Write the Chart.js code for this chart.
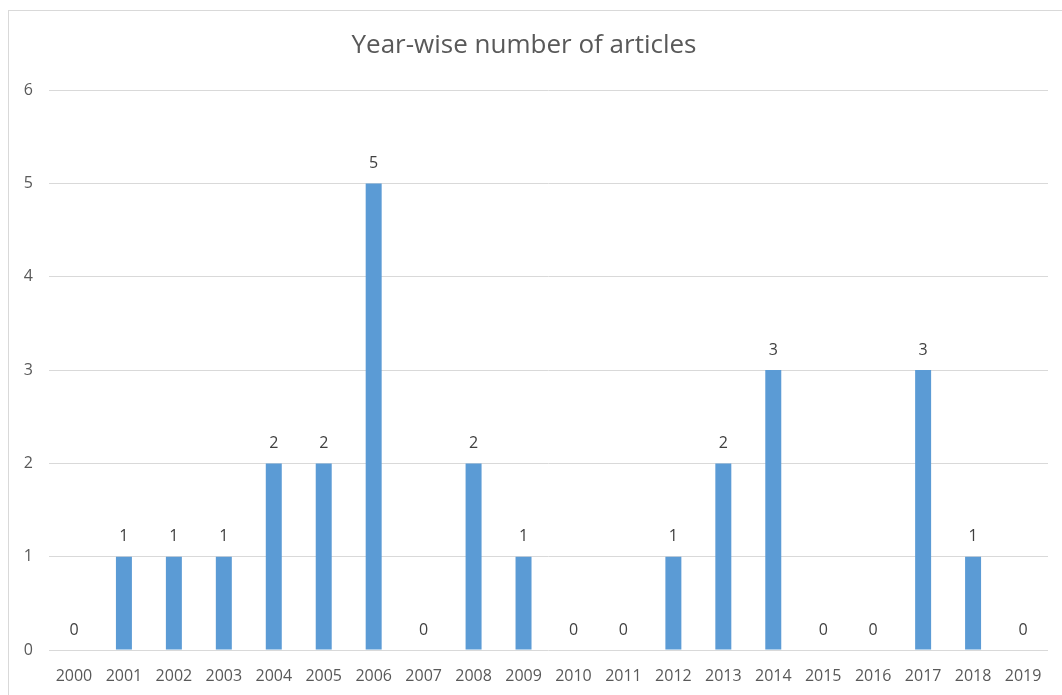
<!DOCTYPE html>
<html>
<head>
  <meta charset="utf-8" />
  <title>Year-wise number of articles</title>
  <script src="https://cdn.jsdelivr.net/npm/chart.js"></script>
  <style>
    html, body {
      margin: 0;
      padding: 0;
      background: #fff;
      overflow: hidden;
    }
    /* thin frame around the chart area, runs off the right and bottom */
    .frame {
      position: absolute;
      left: 8px;
      top: 10px;
      width: 1100px;
      height: 720px;
      border: 1px solid #d9d9d9;
      box-sizing: border-box;
    }
    .wrap {
      position: absolute;
      left: 0;
      top: 0;
      width: 1062px;
      height: 695px;
    }
  </style>
</head>
<body>
  <div class="frame"></div>
  <div class="wrap"><canvas id="chart"></canvas></div>

  <script>
    const years = ['2000', '2001', '2002', '2003', '2004', '2005', '2006', '2007', '2008', '2009',
                   '2010', '2011', '2012', '2013', '2014', '2015', '2016', '2017', '2018', '2019'];
    const articles = [0, 1, 1, 1, 2, 2, 5, 0, 2, 1, 0, 0, 1, 2, 3, 0, 0, 3, 1, 0];
    const yTicks = [0, 1, 2, 3, 4, 5, 6];

    const fontFamily = '"Open Sans", sans-serif';
    const axisColor = '#595959';
    const gridColor = '#d9d9d9';
    const barColor = '#5b9bd5';

    // value labels above each bar (zeros too)
    const valueLabels = {
      id: 'valueLabels',
      afterDatasetsDraw(chart) {
        const ctx = chart.ctx;
        const meta = chart.getDatasetMeta(0);
        ctx.save();
        ctx.font = '16px ' + fontFamily;
        ctx.fillStyle = '#404040';
        ctx.textAlign = 'center';
        ctx.textBaseline = 'middle';
        meta.data.forEach((bar, i) => {
          ctx.fillText(String(articles[i]), bar.x, bar.y - 20);
        });
        ctx.restore();
      }
    };

    const ctx = document.getElementById('chart').getContext('2d');
    new Chart(ctx, {
      type: 'bar',
      data: {
        labels: years,
        datasets: [{
          label: 'Articles',
          data: articles,
          backgroundColor: barColor,
          borderWidth: 0,
          categoryPercentage: 0.8,
          barPercentage: 0.4
        }]
      },
      options: {
        responsive: true,
        maintainAspectRatio: false,
        animation: false,
        layout: {
          padding: { top: 0, left: 0, right: 14, bottom: 0 }
        },
        plugins: {
          legend: { display: false },
          tooltip: { enabled: false },
          title: {
            display: true,
            text: 'Year-wise number of articles',
            color: axisColor,
            font: { family: fontFamily, size: 26, weight: 'normal', lineHeight: 1.2 },
            padding: { top: 30, bottom: 29 }
          }
        },
        scales: {
          x: {
            grid: { display: false, drawTicks: false },
            border: { display: false },
            ticks: {
              color: axisColor,
              font: { family: fontFamily, size: 16 },
              padding: 17,
              maxRotation: 0,
              autoSkip: false
            },
            afterFit(scale) { scale.height = 45; }
          },
          y: {
            min: 0,
            max: 6,
            afterBuildTicks(scale) {
              scale.ticks = yTicks.map(v => ({ value: v }));
            },
            grid: { color: gridColor, lineWidth: 1, drawTicks: false },
            border: { display: false },
            ticks: {
              color: axisColor,
              font: { family: fontFamily, size: 16 },
              padding: 16
            },
            afterFit(scale) { scale.width = 49; }
          }
        }
      },
      plugins: [valueLabels]
    });
  </script>
</body>
</html>
